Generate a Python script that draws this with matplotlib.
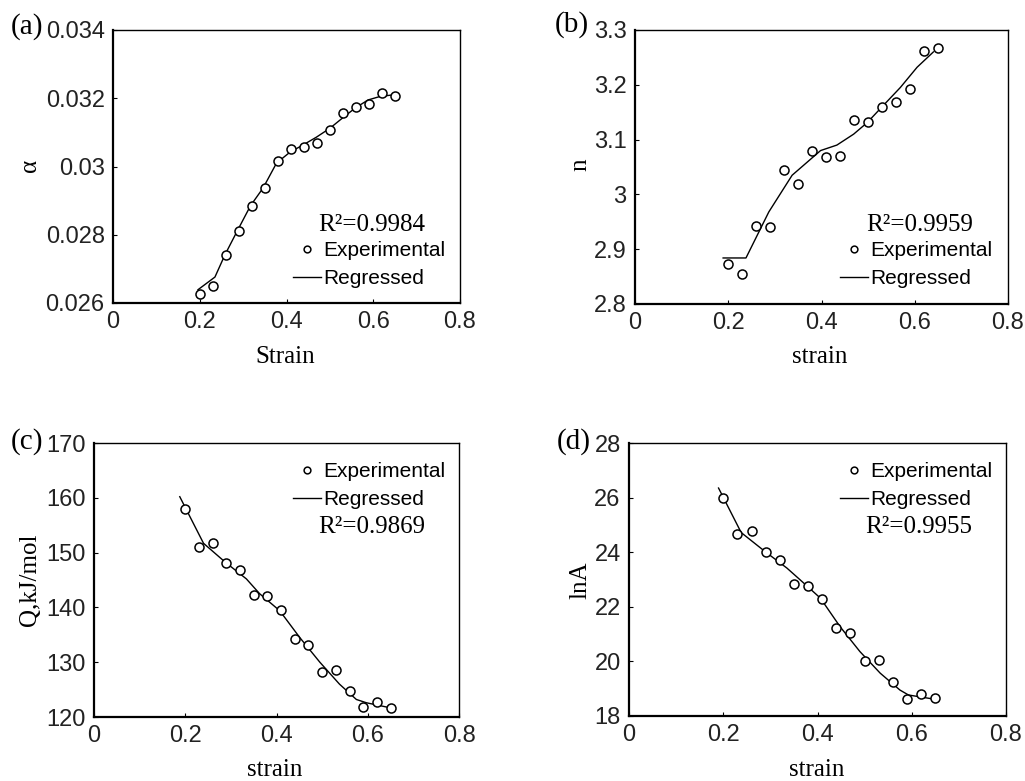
import matplotlib
matplotlib.use("Agg")
import matplotlib.pyplot as plt
from matplotlib.ticker import FuncFormatter, MultipleLocator

# ---------------- data ----------------
strain = [0.20, 0.23, 0.26, 0.29, 0.32, 0.35, 0.38, 0.41, 0.44, 0.47,
          0.50, 0.53, 0.56, 0.59, 0.62, 0.65]

alpha_exp = [0.02627, 0.02649, 0.02741, 0.02810, 0.02883, 0.02937, 0.03016, 0.03052,
             0.03056, 0.03070, 0.03108, 0.03156, 0.03175, 0.03182, 0.03215, 0.03207]
alpha_fit_x = [0.196, 0.235, 0.258, 0.286, 0.317, 0.346, 0.377, 0.408, 0.438, 0.469,
               0.500, 0.531, 0.558, 0.588, 0.615, 0.646]
alpha_fit_y = [0.02639, 0.02676, 0.02741, 0.02810, 0.02885, 0.02937, 0.03010, 0.03042,
               0.03063, 0.03086, 0.03112, 0.03144, 0.03171, 0.03195, 0.03205, 0.03210]

n_exp = [2.873, 2.854, 2.942, 2.940, 3.044, 3.019, 3.079, 3.069, 3.070, 3.136,
         3.133, 3.160, 3.168, 3.193, 3.262, 3.267]
n_fit_x = [0.189, 0.238, 0.287, 0.337, 0.398, 0.433, 0.469, 0.498, 0.530, 0.569,
           0.605, 0.640]
n_fit_y = [2.884, 2.884, 2.968, 3.035, 3.080, 3.090, 3.110, 3.131, 3.160, 3.195,
           3.232, 3.260]

Q_exp = [158.0, 151.0, 151.7, 148.1, 146.8, 142.3, 142.1, 139.6, 134.3, 133.1,
         128.3, 128.6, 124.8, 121.8, 122.7, 121.7]
Q_fit_x = [0.188, 0.240, 0.287, 0.334, 0.363, 0.407, 0.451, 0.495, 0.538, 0.575,
           0.597, 0.648]
Q_fit_y = [160.2, 151.7, 148.3, 145.2, 142.5, 139.4, 134.5, 130.0, 126.0, 123.2,
           122.6, 121.7]

lnA_exp = [25.98, 24.66, 24.76, 24.00, 23.72, 22.85, 22.78, 22.29, 21.23, 21.05,
           20.01, 20.06, 19.24, 18.63, 18.82, 18.65]
lnA_fit_x = [0.190, 0.238, 0.289, 0.335, 0.363, 0.406, 0.448, 0.490, 0.533, 0.575,
             0.593, 0.650]
lnA_fit_y = [26.35, 24.72, 24.02, 23.42, 22.99, 22.32, 21.27, 20.36, 19.57, 18.95,
             18.77, 18.61]

x_ticks = [0, 0.2, 0.4, 0.6, 0.8]

panels = [
    dict(tag="(a)", exp=alpha_exp, fx=alpha_fit_x, fy=alpha_fit_y, ylim=(0.026, 0.034),
         ystep=0.002, ylabel="α", xlabel="Strain", r2="R²=0.9984"),
    dict(tag="(b)", exp=n_exp, fx=n_fit_x, fy=n_fit_y, ylim=(2.8, 3.3),
         ystep=0.1, ylabel="n", xlabel="strain", r2="R²=0.9959"),
    dict(tag="(c)", exp=Q_exp, fx=Q_fit_x, fy=Q_fit_y, ylim=(120, 170),
         ystep=10, ylabel="Q,kJ/mol", xlabel="strain", r2="R²=0.9869"),
    dict(tag="(d)", exp=lnA_exp, fx=lnA_fit_x, fy=lnA_fit_y, ylim=(18, 28),
         ystep=2, ylabel="lnA", xlabel="strain", r2="R²=0.9955"),
]

# ---------------- layout (pixels) ----------------
W, H = 1025, 781
boxes = [(113, 30, 460, 303), (635, 30, 1008, 304), (94, 443, 459, 717), (629, 443, 1006, 716)]
legend_pos = [(293, 241), (840, 241), (293, 462), (840, 462)]
r2_pos = [(372, 225), (920, 225), (372, 527), (919, 527)]
tag_pos = [(11, 27), (555, 25), (11, 442), (557, 442)]
ylabel_pos = [(30, 165), (580, 165), (30, 580), (580, 580)]
xlabel_pos = [(285, 357), (820, 357), (275, 770), (817, 770)]

SERIF = ["Liberation Serif", "DejaVu Serif"]
SANS = ["Liberation Sans", "DejaVu Sans"]

fig = plt.figure(figsize=(W / 100, H / 100), dpi=100)


def fx(px):
    return px / W


def fy(py):
    return 1 - py / H


for p, box, lp, rp, tp, ylp, xlp in zip(panels, boxes, legend_pos, r2_pos, tag_pos,
                                         ylabel_pos, xlabel_pos):
    l, t, r, b = box
    ax = fig.add_axes([fx(l), fy(b), (r - l) / W, (b - t) / H])
    ax.plot(strain, p["exp"], linestyle="none", marker="o", markersize=6.5,
            markerfacecolor="white", markeredgecolor="black", markeredgewidth=1.1,
            label="Experimental", zorder=3)
    ax.plot(p["fx"], p["fy"], color="black", linewidth=1.0, label="Regressed", zorder=2)
    ax.set_xlim(0, 0.8)
    ax.set_ylim(*p["ylim"])
    ax.set_xticks(x_ticks)
    ax.yaxis.set_major_locator(MultipleLocator(p["ystep"]))
    fmt = FuncFormatter(lambda v, pos: "%g" % round(v, 6))
    ax.xaxis.set_major_formatter(fmt)
    ax.yaxis.set_major_formatter(fmt)
    ax.tick_params(direction="in", length=3, width=0.8, labelsize=17, colors="black",
                   labelcolor="#222222", pad=6, top=False, right=False)
    for lab in ax.get_xticklabels() + ax.get_yticklabels():
        lab.set_fontfamily(SANS)
    ax.spines["left"].set_linewidth(1.6)
    ax.spines["bottom"].set_linewidth(1.6)
    ax.spines["top"].set_linewidth(1.0)
    ax.spines["right"].set_linewidth(1.0)

    ax.legend(loc="upper left", bbox_to_anchor=(fx(lp[0]), fy(lp[1])),
              bbox_transform=fig.transFigure, frameon=False, borderpad=0,
              borderaxespad=0, handlelength=1.35, handletextpad=0.1,
              labelspacing=0.45, markerscale=0.75, prop=dict(family=SANS, size=15))

    fig.text(fx(rp[0]), fy(rp[1]), p["r2"], ha="center", va="center",
             family=SERIF, fontsize=18)
    fig.text(fx(tp[0]), fy(tp[1]), p["tag"], ha="left", va="center",
             family=SERIF, fontsize=21)
    fig.text(fx(ylp[0]), fy(ylp[1]), p["ylabel"], ha="center", va="center",
             rotation=90, family=SERIF, fontsize=18)
    fig.text(fx(xlp[0]), fy(xlp[1]), p["xlabel"], ha="center", va="center",
             family=SERIF, fontsize=18)

fig.savefig("out.png", dpi=100)
